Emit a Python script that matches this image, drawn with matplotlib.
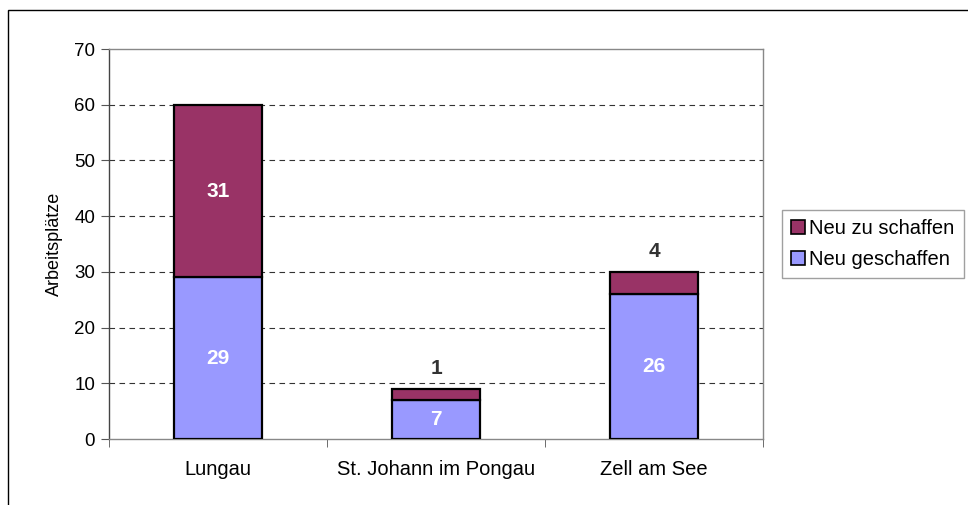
import matplotlib.pyplot as plt
from matplotlib.patches import Rectangle, Patch

plt.rcParams['font.family'] = ['Liberation Sans', 'DejaVu Sans']

regions = ['Lungau', 'St. Johann im Pongau', 'Zell am See']
geschaffen = [29, 7, 26]
zu_schaffen = [31, 2, 4]
zu_schaffen_labels = ['31', '1', '4']
yticks = [0, 10, 20, 30, 40, 50, 60, 70]

col_done = '#9999FF'
col_todo = '#993366'

fig = plt.figure(figsize=(9.68, 5.05), dpi=100)
ax = fig.add_axes([109/968, 66/505, 654/968, 390/505])

x = list(range(len(regions)))
ax.bar(x, geschaffen, width=0.4, color=col_done, edgecolor='black', linewidth=1.6, zorder=3)
ax.bar(x, zu_schaffen, width=0.4, bottom=geschaffen, color=col_todo, edgecolor='black', linewidth=1.6, zorder=3)

# value labels
for i in x:
    ax.text(i, geschaffen[i] / 2, str(geschaffen[i]), ha='center', va='center',
            color='white', fontsize=15, fontweight='bold', zorder=4)
    top = geschaffen[i] + zu_schaffen[i]
    if zu_schaffen[i] >= 10:
        ax.text(i, geschaffen[i] + zu_schaffen[i] / 2, zu_schaffen_labels[i], ha='center', va='center',
                color='white', fontsize=15, fontweight='bold', zorder=4)
    else:
        ax.text(i, top + 2.0, zu_schaffen_labels[i], ha='center', va='bottom',
                color='#333333', fontsize=15, fontweight='bold', zorder=4)

ax.set_xlim(-0.5, 2.5)
ax.set_ylim(0, 70)
ax.set_yticks(yticks)
ax.tick_params(axis='y', labelsize=13.5, length=6, color='#555555', direction='out', pad=4)
ax.set_xticks(x)
ax.set_xticklabels(regions)
ax.set_xticks([-0.5, 0.5, 1.5, 2.5], minor=True)
ax.tick_params(axis='x', which='major', length=0, labelsize=14.5, pad=15)
ax.tick_params(axis='x', which='minor', length=6, color='#555555')

for v in yticks[1:-1]:
    ax.axhline(v, color='#333333', linestyle=(0, (5, 4)), linewidth=0.8, zorder=1)
ax.spines['top'].set_color('#888888')
ax.spines['right'].set_color('#888888')
ax.spines['bottom'].set_color('#888888')
ax.spines['left'].set_color('#444444')
for s in ax.spines.values():
    s.set_linewidth(1.0)

ax.set_ylabel('Arbeitsplätze', fontsize=13, labelpad=8)

handles = [Patch(facecolor=col_todo, edgecolor='black', linewidth=1.2),
           Patch(facecolor=col_done, edgecolor='black', linewidth=1.2)]
leg = fig.legend(handles, ['Neu zu schaffen', 'Neu geschaffen'],
                 loc='upper left', bbox_to_anchor=(782/968, 1 - 210/505),
                 fontsize=14.5, frameon=True, fancybox=False,
                 handlelength=0.7, handleheight=0.7, handletextpad=0.2,
                 borderpad=0.45, labelspacing=0.6, borderaxespad=0)
leg.get_frame().set_edgecolor('#888888')
leg.get_frame().set_linewidth(1.0)

# outer chart border (cut off at the right and bottom)
fig.patches.append(Rectangle((8/968, -0.1), 1.2, 1.08, transform=fig.transFigure,
                             fill=False, edgecolor='black', linewidth=1.0, clip_on=False))

fig.savefig('out.png', dpi=100)
